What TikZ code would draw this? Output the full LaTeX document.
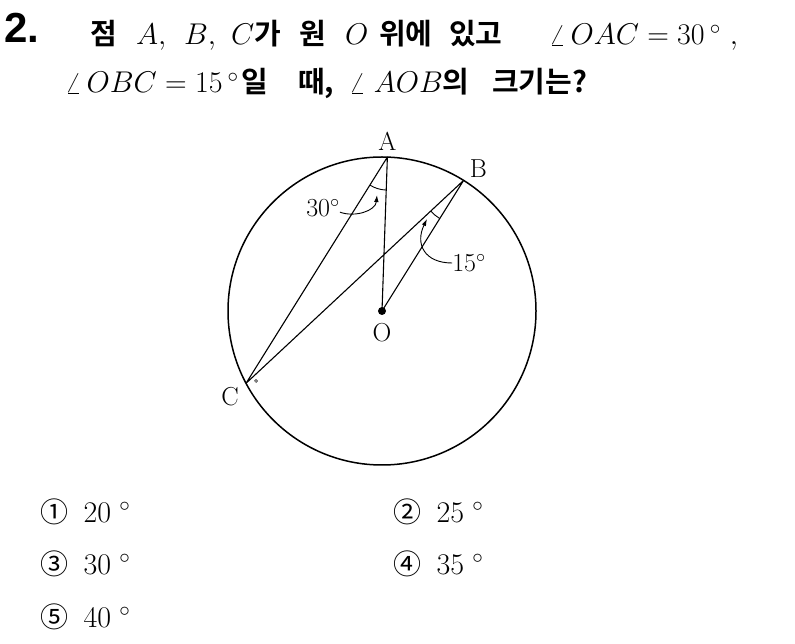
\RequirePackage{fix-cm}
\documentclass[tikz,border=0pt]{standalone}
\usepackage{fontspec}
\newfontfamily\kr{Noto Sans CJK KR}[BoldFont={* Bold}]
\newfontfamily\numfont{Liberation Sans}
\newcommand\kb[1]{{\fontsize{29}{32}\selectfont\kr\bfseries #1}}
\newcommand\mth[1]{{\fontsize{30}{34}\selectfont$#1$}}
\usetikzlibrary{arrows.meta,calc,positioning}
\begin{document}
\begin{tikzpicture}[x=1pt,y=1pt,
  txt/.style={anchor=base west,inner sep=0pt,font=\fontsize{26}{30}\selectfont},
  lbl/.style={inner sep=0pt,font=\fontsize{26}{30}\selectfont},
  chord/.style={line width=1.1pt,line join=round},
  pointer/.style={line width=0.9pt,-{Latex[length=7pt,width=4.5pt]}}]
\useasboundingbox (0,0) rectangle (795,643);

% question text, first line
\node [txt] (num) at (4,600) {\fontsize{42}{42}\selectfont\numfont\bfseries 2.};
\node [txt] (q1) at (90,598) {\kb{점}};
\node [txt] (q2) at (136,598) {\mth{A,}};
\node [txt] (q3) at (184,598) {\mth{B,}};
\node [txt] (q4) at (231,598) {\mth{C}\kb{가}};
\node [txt] (q5) at (299,598) {\kb{원}};
\node [txt] (q6) at (345,598) {\mth{O}};
\node [txt] (q7) at (379,598) {\kb{위에}};
\node [txt] (q8) at (449,598) {\kb{있고}};
\node [txt] (q9) at (549,598) {\mth{\angle\,OAC=30\,^{\circ}\hspace{0.3em},}};
% second line
\node [txt] (r1) at (65,550) {\mth{\angle\,OBC=15\,^{\circ}}};
\node [txt] (r2) at (241,550) {\kb{일}};
\node [txt] (r3) at (298,550) {\kb{때,}};
\node [txt] (r4) at (349,550) {\mth{\angle\;AOB}\kb{의}};
\node [txt] (r5) at (492,550) {\kb{크기는?}};

% circle and chords
\coordinate (O) at (382,332);
\coordinate (A) at ($(O)+(88:154)$);
\coordinate (B) at ($(O)+(58:154)$);
\coordinate (C) at ($(O)+(208:154)$);
\draw [line width=1.5pt] (O) circle (154);
\draw [chord] (C) -- (A) -- (O) -- (B) -- cycle;
\fill (O) circle (4);

% angle marks
\draw [line width=0.9pt] (A) ++(238:33) arc [start angle=238,end angle=268,radius=33];
\draw [line width=0.9pt] (B) ++(223:45) arc [start angle=223,end angle=238,radius=45];
\draw [line width=0.5pt] (256,262) circle (1.4);

% labels
\node [lbl, above=6pt of A] (lA) {A};
\node [lbl, above right=3pt and 6pt of B] (lB) {B};
\node [lbl, below left=4pt and 7pt of C] (lC) {C};
\node [lbl, below=12pt of O] (lO) {O};
\node [lbl] (a30) at (323,435) {30$^{\circ}$};
\node [lbl] (a15) at (469,380) {15$^{\circ}$};
\coordinate (tipA) at (377,448);
\coordinate (tipB) at (427,424);
\draw [pointer] ([yshift=5pt]a30.south east) to [out=-20,in=-95] (tipA);
\draw [pointer] (a15.west) to [out=180,in=-116,looseness=1.4] (tipB);

% choices
\node [txt, font=\fontsize{28}{30}\selectfont] (c1) at (40,121) {{\kr ①}\hspace{0.55em}\mth{20\;^{\circ}}};
\node [txt, font=\fontsize{28}{30}\selectfont] (c2) at (393,121) {{\kr ②}\hspace{0.55em}\mth{25\;^{\circ}}};
\node [txt, font=\fontsize{28}{30}\selectfont] (c3) at (40,69) {{\kr ③}\hspace{0.55em}\mth{30\;^{\circ}}};
\node [txt, font=\fontsize{28}{30}\selectfont] (c4) at (393,69) {{\kr ④}\hspace{0.55em}\mth{35\;^{\circ}}};
\node [txt, font=\fontsize{28}{30}\selectfont] (c5) at (40,16) {{\kr ⑤}\hspace{0.55em}\mth{40\;^{\circ}}};
\end{tikzpicture}
\end{document}
